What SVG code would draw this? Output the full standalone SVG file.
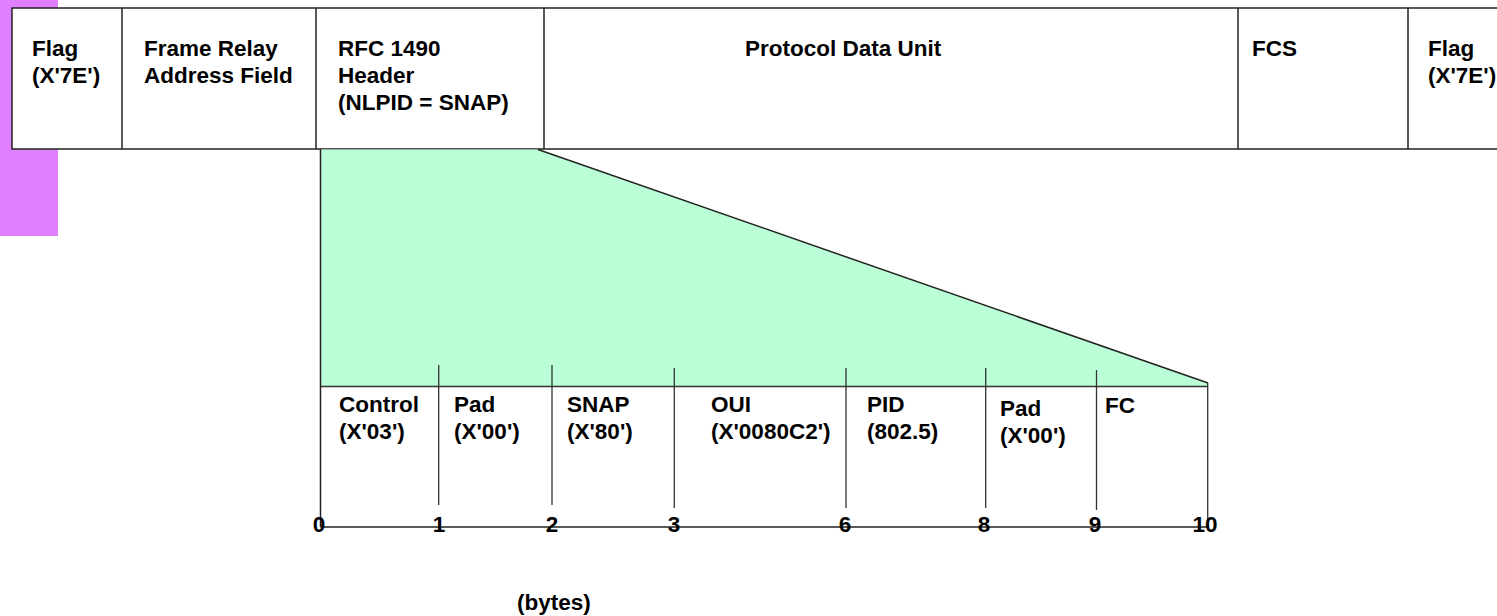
<svg xmlns="http://www.w3.org/2000/svg" width="1497" height="616" viewBox="0 0 1497 616">
<style>
  text { font-family: "Liberation Sans", Arial, sans-serif; font-weight: bold; font-size: 22.5px; fill: #000; }
  .num { text-anchor: middle; }
  .frame { fill: #fff; stroke: #222; stroke-width: 1.5; }
  .ln { stroke: #222; stroke-width: 1.5; fill: none; }
  .tick { stroke: #333; stroke-width: 1.3; fill: none; }
</style>
<rect id="marker-bar" x="0" y="0" width="58" height="236" fill="#E080FF"/>

<g id="frame">
  <rect class="frame" x="12" y="8" width="1500" height="141"/>
</g>
<g id="field-flag1">
  <text x="32" y="56">Flag</text>
  <text x="32" y="83">(X'7E')</text>
</g>
<g id="field-address">
  <line class="ln" x1="122" y1="8" x2="122" y2="149"/>
  <text x="144" y="56">Frame Relay</text>
  <text x="144" y="83">Address Field</text>
</g>
<g id="field-rfc1490">
  <line class="ln" x1="316" y1="8" x2="316" y2="149"/>
  <text x="338" y="56">RFC 1490</text>
  <text x="338" y="83">Header</text>
  <text x="338" y="110">(NLPID = SNAP)</text>
</g>
<g id="field-pdu">
  <line class="ln" x1="544" y1="8" x2="544" y2="149"/>
  <text x="745" y="56">Protocol Data Unit</text>
</g>
<g id="field-fcs">
  <line class="ln" x1="1238" y1="8" x2="1238" y2="149"/>
  <text x="1252" y="56">FCS</text>
</g>
<g id="field-flag2">
  <line class="ln" x1="1408" y1="8" x2="1408" y2="149"/>
  <text x="1428" y="56">Flag</text>
  <text x="1428" y="83">(X'7E')</text>
</g>

<g id="expansion">
  <polygon points="320.5,149.5 538,149.5 1208,383 1208,386.5 320.5,386.5" fill="#BBFFD6" stroke="none"/>
  <line class="ln" x1="538" y1="149.5" x2="1208" y2="383"/>
  <line class="tick" x1="320.5" y1="386.5" x2="1208" y2="386.5"/>
</g>

<g id="connectors">
  <line class="ln" x1="320.5" y1="149" x2="320.5" y2="527"/>
  <line class="tick" x1="438.7" y1="365" x2="438.7" y2="505"/>
  <line class="tick" x1="552" y1="365" x2="552" y2="505"/>
  <line class="tick" x1="674.3" y1="368" x2="674.3" y2="508"/>
  <line class="tick" x1="846" y1="368" x2="846" y2="508"/>
  <line class="tick" x1="985.7" y1="368" x2="985.7" y2="508"/>
  <line class="tick" x1="1096.5" y1="370" x2="1096.5" y2="510"/>
  <line class="tick" x1="1207.7" y1="383" x2="1207.7" y2="527"/>
  <line class="ln" x1="320.5" y1="527" x2="1208" y2="527"/>
</g>

<g id="byte-control">
  <text x="339" y="412">Control</text>
  <text x="339" y="439">(X'03')</text>
</g>
<g id="byte-pad1">
  <text x="454" y="412">Pad</text>
  <text x="454" y="439">(X'00')</text>
</g>
<g id="byte-snap">
  <text x="567" y="412">SNAP</text>
  <text x="567" y="439">(X'80')</text>
</g>
<g id="byte-oui">
  <text x="711" y="412">OUI</text>
  <text x="711" y="439">(X'0080C2')</text>
</g>
<g id="byte-pid">
  <text x="867" y="412">PID</text>
  <text x="867" y="439">(802.5)</text>
</g>
<g id="byte-pad2">
  <text x="1000" y="416">Pad</text>
  <text x="1000" y="443">(X'00')</text>
</g>
<g id="byte-fc">
  <text x="1105" y="413">FC</text>
</g>

<g id="scale">
  <text class="num" x="319" y="532">0</text>
  <text class="num" x="439" y="532">1</text>
  <text class="num" x="552" y="532">2</text>
  <text class="num" x="674" y="532">3</text>
  <text class="num" x="845" y="532">6</text>
  <text class="num" x="984" y="532">8</text>
  <text class="num" x="1095" y="532">9</text>
  <text class="num" x="1205" y="532">10</text>
  <text x="517" y="610">(bytes)</text>
</g>
</svg>
